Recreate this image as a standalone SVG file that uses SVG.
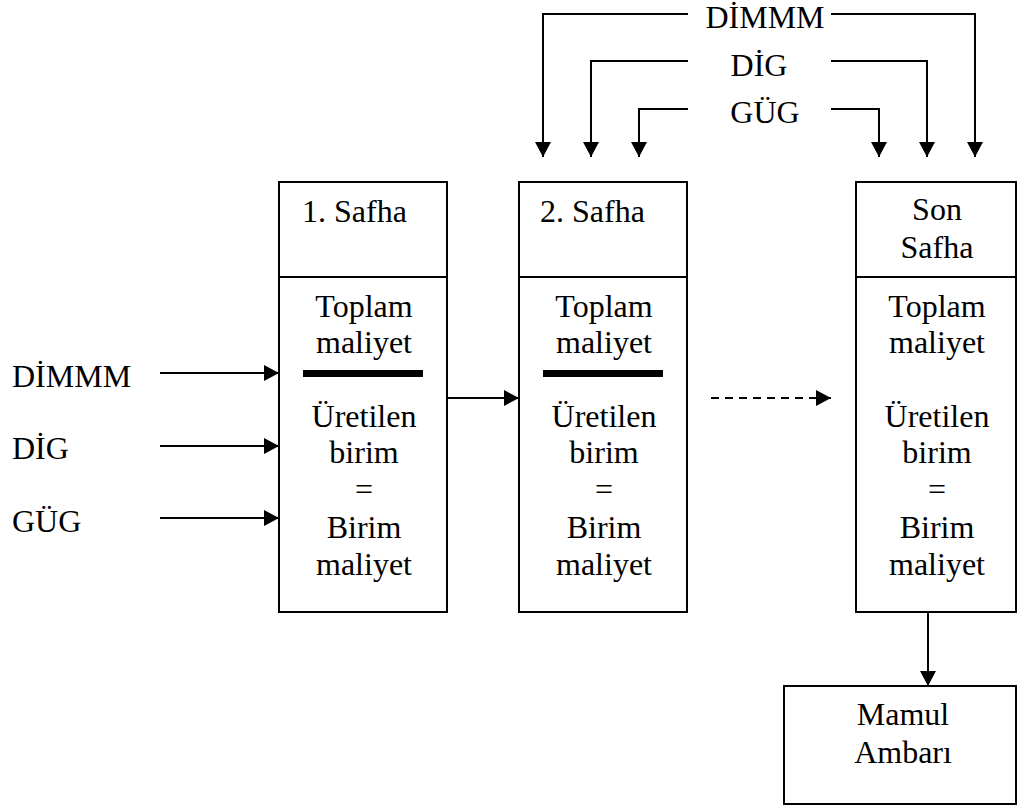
<svg xmlns="http://www.w3.org/2000/svg" width="1018" height="807" viewBox="0 0 1018 807">
  <defs>
    <marker id="arrow" markerUnits="userSpaceOnUse" markerWidth="16" markerHeight="16" refX="15" refY="8" orient="auto">
      <path d="M0,0 L15,8 L0,16 z" fill="#000"/>
    </marker>
    <style>
      text { font-family: "Liberation Serif", "Times New Roman", serif; font-size: 32px; fill: #000; }
      .c { text-anchor: middle; }
      .box { fill: #fff; stroke: #000; stroke-width: 2; }
      .div { stroke: #000; stroke-width: 2; }
      .bar { fill: #000; }
      .conn { fill: none; stroke: #000; stroke-width: 2; }
      .arr { marker-end: url(#arrow); }
      .dash { stroke-dasharray: 8 6; }
    </style>
  </defs>

  <rect width="1018" height="807" fill="#fff"/>

  <!-- cost inputs feeding from the top -->
  <g id="top-inputs">
    <text class="c" x="765" y="28">DİMMM</text>
    <text class="c" x="759" y="76">DİG</text>
    <text class="c" x="765" y="123">GÜG</text>
  </g>

  <!-- cost inputs feeding the first stage -->
  <g id="left-inputs">
    <text x="12" y="387">DİMMM</text>
    <text x="12" y="459">DİG</text>
    <text x="12" y="532">GÜG</text>
  </g>

  <!-- stage 1 -->
  <g id="stage1">
    <rect class="box" x="279" y="182" width="168" height="430"/>
    <line class="div" x1="279" y1="277" x2="447" y2="277"/>
    <text x="302" y="222">1. Safha</text>
    <text class="c" x="364" y="317">Toplam</text>
    <text class="c" x="364" y="353">maliyet</text>
    <rect class="bar" x="303" y="370" width="120" height="7"/>
    <text class="c" x="364" y="427">Üretilen</text>
    <text class="c" x="364" y="463">birim</text>
    <text class="c" x="364" y="500">=</text>
    <text class="c" x="364" y="538">Birim</text>
    <text class="c" x="364" y="575">maliyet</text>
  </g>

  <!-- stage 2 -->
  <g id="stage2">
    <rect class="box" x="519" y="182" width="168" height="430"/>
    <line class="div" x1="519" y1="277" x2="687" y2="277"/>
    <text x="540" y="222">2. Safha</text>
    <text class="c" x="604" y="317">Toplam</text>
    <text class="c" x="604" y="353">maliyet</text>
    <rect class="bar" x="543" y="370" width="120" height="7"/>
    <text class="c" x="604" y="427">Üretilen</text>
    <text class="c" x="604" y="463">birim</text>
    <text class="c" x="604" y="500">=</text>
    <text class="c" x="604" y="538">Birim</text>
    <text class="c" x="604" y="575">maliyet</text>
  </g>

  <!-- final stage -->
  <g id="stage-last">
    <rect class="box" x="856" y="182" width="160" height="430"/>
    <line class="div" x1="856" y1="277" x2="1016" y2="277"/>
    <text class="c" x="937" y="220">Son</text>
    <text class="c" x="937" y="258">Safha</text>
    <text class="c" x="937" y="317">Toplam</text>
    <text class="c" x="937" y="353">maliyet</text>
    <text class="c" x="937" y="427">Üretilen</text>
    <text class="c" x="937" y="463">birim</text>
    <text class="c" x="937" y="500">=</text>
    <text class="c" x="937" y="538">Birim</text>
    <text class="c" x="937" y="575">maliyet</text>
  </g>

  <!-- finished goods store -->
  <g id="warehouse">
    <rect class="box" x="784" y="686" width="232" height="118"/>
    <text class="c" x="903" y="725">Mamul</text>
    <text class="c" x="903" y="763">Ambarı</text>
  </g>

  <g id="connectors">
    <!-- top feeds, left branches -->
    <path class="conn arr" d="M688,14 H543 V157"/>
    <path class="conn arr" d="M688,61 H591 V157"/>
    <path class="conn arr" d="M688,109 H639 V157"/>
    <!-- top feeds, right branches -->
    <path class="conn arr" d="M831,14 H975 V157"/>
    <path class="conn arr" d="M831,61 H927 V157"/>
    <path class="conn arr" d="M831,109 H879 V157"/>
    <!-- left feeds into stage 1 -->
    <line class="conn arr" x1="160" y1="373" x2="279" y2="373"/>
    <line class="conn arr" x1="160" y1="446" x2="279" y2="446"/>
    <line class="conn arr" x1="160" y1="518" x2="279" y2="518"/>
    <!-- stage to stage -->
    <line class="conn arr" x1="447" y1="398" x2="519" y2="398"/>
    <line class="conn arr dash" x1="711" y1="398" x2="831" y2="398"/>
    <!-- final stage to store -->
    <line class="conn arr" x1="928" y1="612" x2="928" y2="686"/>
  </g>
</svg>
